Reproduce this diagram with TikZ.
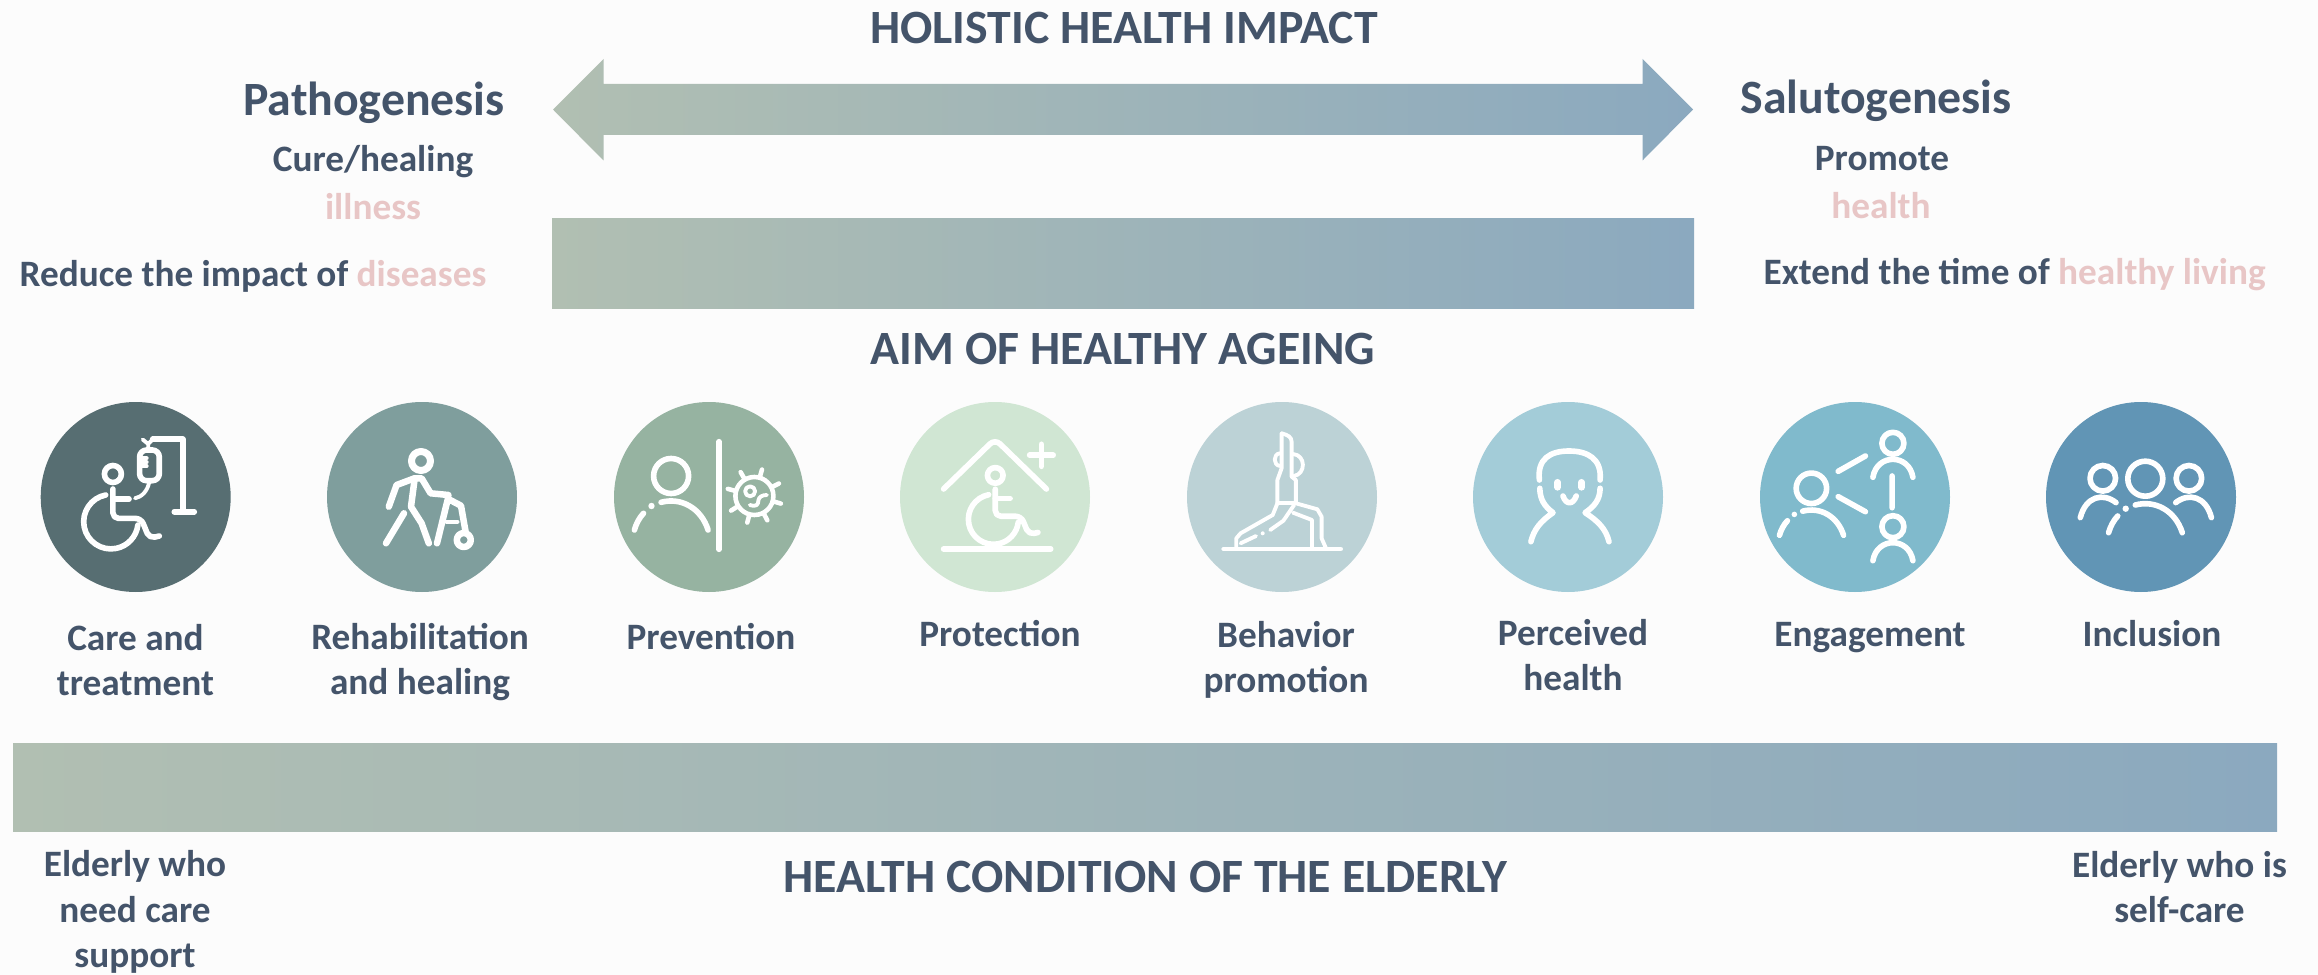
\documentclass[tikz,border=0pt]{standalone}
\usepackage{fontspec}
\setmainfont{Carlito}
\usetikzlibrary{arrows.meta}
\definecolor{inkblue}{HTML}{44546A}
\definecolor{softpink}{HTML}{E8C6C6}
\definecolor{barsage}{HTML}{B1BFB2}
\definecolor{barmid}{HTML}{A9BBBC}
\definecolor{barsteel}{HTML}{8BA9BF}

\begin{document}
\begin{tikzpicture}[x=0.1mm, y=-0.1mm, line cap=round, line join=round,
    gradbar/.style = {left color=barsage, middle color=barmid, right color=barsteel, draw=none},
    badge/.style = {circle, minimum size=19mm, inner sep=0pt, draw=none},
    heading/.style = {font=\fontsize{13.6}{16}\selectfont\bfseries, text=inkblue, inner sep=0pt, anchor=base},
    bigname/.style = {font=\fontsize{13.6}{16}\selectfont\bfseries, text=inkblue, inner sep=0pt, anchor=base},
    caption/.style = {font=\fontsize{10.6}{12.9}\selectfont\bfseries, text=inkblue, inner sep=0pt, align=center},
    glyph/.style = {draw=white, line width=1.6pt},
    thinglyph/.style = {draw=white, line width=1.1pt},
    bust/.pic = {
        \draw[glyph] (0,0) circle[radius=17.5];
        \draw[glyph] (-10,26.3) .. controls (10,21) and (30,32) .. (37,54);
        \fill[white] (-19.6,30) circle[radius=3.2];
        \draw[glyph] (-27.6,37.3) .. controls (-32,42) and (-35,48) .. (-36.7,54);
    },
    smallbust/.pic = {
        \draw[glyph] (0,0) circle[radius=11];
        \draw[glyph] (-20,34) .. controls (-16,10) and (16,10) .. (20,34);
    },
    sidebust/.pic = {
        \draw[glyph] (0,0) circle[radius=12.8];
        \draw[glyph] (-22.5,39.3) .. controls (-17,18) and (0,14) .. (13.2,24.3);
    },
    wheelchair/.pic = {
        \draw[glyph] (1.8,-47.7) circle[radius=8.5];
        \draw[glyph, rounded corners=1.6pt] (1.8,-32.7) -- (1.8,-3.3) -- (30,-3.3) -- (38.2,16.7) -- (48.2,14.3);
        \draw[glyph] (1.8,-22.7) -- (17.9,-22.7);
        \draw[glyph] (-5.4,-26.7) arc[start angle=-101, end angle=-353, radius=27.2];
    }]

    % page
    \useasboundingbox (0,0) rectangle (2318,975);
    \fill[white!99!black] (0,0) rectangle (2318,975);

    % bars
    \path[gradbar] (553,109.5) -- (603.5,59) -- (603.5,84) -- (1642.5,84) -- (1642.5,59) -- (1693,109.5)
        -- (1642.5,160.5) -- (1642.5,135) -- (603.5,135) -- (603.5,160.5) -- cycle;
    \path[gradbar] (552,219) rectangle (1694,308.5);
    \path[gradbar] (13,743) rectangle (2277,831.5);

    % headings
    \node[heading] (impact) at (1124,44) {HOLISTIC HEALTH IMPACT};
    \node[heading] (aim) at (1123,364) {AIM OF HEALTHY AGEING};
    \node[heading] (condition) at (1145,892) {HEALTH CONDITION OF THE ELDERLY};

    % left and right sides
    \node[bigname] (patho) at (374,116) {Pathogenesis};
    \node[caption, anchor=base] (cure) at (373,172) {Cure/healing};
    \node[caption, anchor=base, text=softpink] (illness) at (373,220) {illness};
    \node[caption, anchor=base west] (reduce) at (19,287) {Reduce the impact of \textcolor{softpink}{diseases}};
    \node[bigname] (saluto) at (1876,114) {Salutogenesis};
    \node[caption, anchor=base] (promote) at (1882,171) {Promote};
    \node[caption, anchor=base, text=softpink] (health) at (1881,219) {health};
    \node[caption, anchor=base west] (extend) at (1763,285) {Extend the time of \textcolor{softpink}{healthy living}};

    % badges
    \node[badge, fill={rgb,255:red,87;green,110;blue,114}] (care) at (135.7,497) {};
    \node[badge, fill={rgb,255:red,127;green,158;blue,157}] (rehab) at (422,497) {};
    \node[badge, fill={rgb,255:red,150;green,179;blue,161}] (prevent) at (709,497) {};
    \node[badge, fill={rgb,255:red,208;green,230;blue,211}] (protect) at (995,497) {};
    \node[badge, fill={rgb,255:red,188;green,210;blue,214}] (behave) at (1282,497) {};
    \node[badge, fill={rgb,255:red,163;green,204;blue,216}] (perceive) at (1568,497) {};
    \node[badge, fill={rgb,255:red,128;green,186;blue,204}] (engage) at (1855,497) {};
    \node[badge, fill={rgb,255:red,97;green,149;blue,181}] (include) at (2141,497) {};

    % badge captions
    \node[caption] (carelab) at (135.5,660) {Care and\\treatment};
    \node[caption] (rehablab) at (420,662) {Rehabilitation\\and healing};
    \node[caption, anchor=base] (preventlab) at (711,649) {Prevention};
    \node[caption, anchor=base] (protectlab) at (1000,646) {Protection};
    \node[caption] (behavelab) at (1286,660) {Behavior\\promotion};
    \node[caption] (perceivelab) at (1573,655) {Perceived\\health};
    \node[caption, anchor=base] (engagelab) at (1870,646) {Engagement};
    \node[caption, anchor=base] (includelab) at (2152,646) {Inclusion};

    % bar ends
    \node[caption] (needcare) at (135,912) {Elderly who\\need care\\support};
    \node[caption] (selfcare) at (2179.5,887) {Elderly who is\\self-care};

    % care
    \begin{scope}[shift={(care.center)}]
        \pic at (-24.6,24.7) {wheelchair};
        \draw[glyph, rounded corners=2pt] (3.9,-47) rectangle (23.6,-16.3);
        \foreach \tick in {-38.7,-34.7,-31} \draw[thinglyph] (5.7,\tick) -- (11,\tick);
        \draw[thinglyph] (12.5,-47) -- (12.5,-53) (7,-57.5) -- (12.5,-53) -- (17,-57.7);
        \draw[glyph] (17,-57.7) -- (47,-57.7) -- (47,13.7) (38.6,14.7) -- (58.6,14.7);
        \draw[thinglyph] (13.6,-15.3) .. controls (12,-6) and (6,0) .. (-0.7,1.3);
    \end{scope}

    % rehabilitation
    \begin{scope}[shift={(rehab.center)}, line width=1.85pt]
        \draw[white, line width=2pt] (-1,-36) circle[radius=9.5];
        \draw[white] (-33.2,9.7) -- (-25.4,-12) -- (-7.5,-18.7) -- (-0.4,-18.7) -- (8.6,-3.7) -- (26.4,-2);
        \draw[white] (-7.5,-17) -- (-11,9.7) -- (-0.4,26.3) -- (6.8,46.3);
        \draw[white] (-18,16.3) -- (-36,46.3);
        \draw[white] (26.4,-0.3) -- (15,46.3) (28.2,3) -- (39,8.7) -- (43.6,34.7);
        \draw[white, line width=1.2pt] (24.6,24.7) -- (35.4,24.7);
        \draw[white] (41.8,43) circle[radius=7];
    \end{scope}

    % prevention
    \begin{scope}[shift={(prevent.center)}]
        \pic at (-37.9,-21) {bust};
        \draw[glyph] (10,-55.3) -- (10,52.3);
        \draw[thinglyph, line width=1.3pt] (45.4,-1) circle[radius=19];
        \foreach \spike in {-74,-120,-27,-165,16,148,62,105}
            \draw[thinglyph, line width=1.3pt] (45.4,-1) ++(\spike:20) -- ++(\spike:7.5);
        \draw[thinglyph] (41.1,-5.7) circle[radius=5];
        \draw[thinglyph] (40.8,8) .. controls (48,10) and (49,8) .. (49.5,3) .. controls (50,0) and (53,-2) .. (57.9,-2);
    \end{scope}

    % protection
    \begin{scope}[shift={(protect.center)}]
        \draw[glyph, rounded corners=2pt] (-51.4,-8) -- (-0,-58) -- (51.4,-8);
        \draw[glyph] (46.4,-52.7) -- (46.4,-30.7) (34.6,-41.7) -- (58.2,-41.7);
        \draw[glyph] (-51.4,52) -- (55.7,52);
        \pic[scale=.92] at (-1.4,22.3) {wheelchair};
    \end{scope}

    % behavior
    \begin{scope}[shift={(behave.center)}]
        \draw[thinglyph, line width=1.4pt] (-58.2,52) -- (58.6,52);
        \draw[thinglyph] (-0.4,-63.7) -- (-0.4,-28.7) -- (-4.6,-17) -- (-4.6,6.3) -- (-9.3,18) -- (-41.4,36.3) -- (-45.7,41.3) -- (-45.7,52);
        \draw[thinglyph] (-0.4,-63.7) .. controls (6,-62) and (9.6,-60) .. (9.6,-55.3) -- (9.6,-20.3) -- (13.9,-17) -- (13.9,6.3) -- (35.4,12.3) -- (39.6,19.7) -- (39.6,41.3) -- (44.3,52);
        \draw[thinglyph] (-4.6,6.3) -- (13.9,6.3);
        \draw[thinglyph] (12.1,8) -- (1.4,23.7) -- (-11.8,33);
        \draw[thinglyph] (11,15.7) -- (30,23) -- (30,52);
        \fill[white] (-19.3,36.3) circle[radius=2];
        \draw[thinglyph] (-26,39) -- (-41.4,46.3);
        \draw[thinglyph] (-2.1,-43.7) .. controls (-9,-43) and (-9,-32) .. (-2.1,-31);
        \draw[thinglyph] (11,-43) .. controls (24,-42) and (24,-23) .. (12,-21);
    \end{scope}

    % perceived
    \begin{scope}[shift={(perceive.center)}]
        \draw[glyph] (-28.6,-17) .. controls (-31,-38) and (-18,-46) .. (1,-46) .. controls (20,-46) and (34,-38) .. (32.1,-17);
        \draw[glyph] (-28.2,-8.7) .. controls (-28,2) and (-24,9) .. (-15,15.7) .. controls (-27,24) and (-34,32) .. (-37.1,44.7);
        \draw[glyph] (32.1,-8.7) .. controls (32,2) and (27,9) .. (17.1,15.7) .. controls (30,24) and (38,32) .. (41,44.7);
        \draw[glyph, line width=1.9pt] (-10.4,-14.7) -- (-10.4,-9.7) (13.6,-14.7) -- (13.6,-9.7);
        \draw[glyph] (-5,-1) .. controls (-2,8) and (5,8) .. (8.2,-1);
    \end{scope}

    % engagement
    \begin{scope}[shift={(engage.center)}]
        \pic[scale=.87] at (-43.6,-8.7) {bust};
        \pic at (37.9,-53.7) {smallbust};
        \pic at (37.9,29.7) {smallbust};
        \draw[glyph] (-16.8,-25.7) -- (10.4,-41) (-16.8,-0.3) -- (10.4,14.7) (37.1,-21) -- (37.1,10.7);
    \end{scope}

    % inclusion
    \begin{scope}[shift={(include.center)}]
        \pic at (4.3,-18.3) {bust};
        \pic at (-38.2,-18.7) {sidebust};
        \pic[xscale=-1] at (47.9,-18.7) {sidebust};
    \end{scope}

\end{tikzpicture}
\end{document}
